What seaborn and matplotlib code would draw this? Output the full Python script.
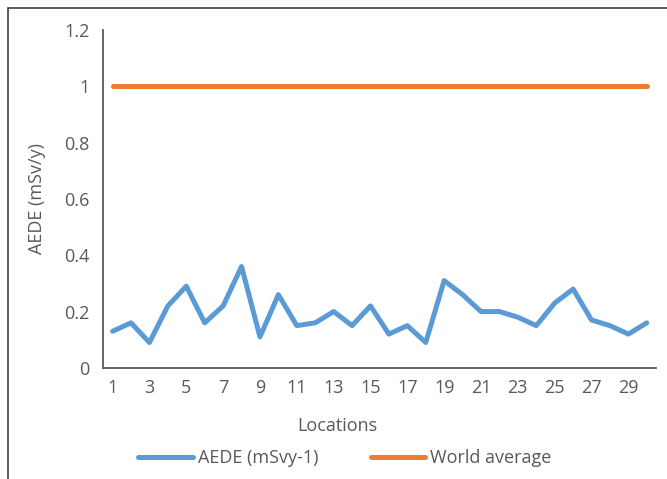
import matplotlib
matplotlib.use('Agg')
import matplotlib.pyplot as plt
import numpy as np
import pandas as pd
import seaborn as sns
from matplotlib.patches import Rectangle

locations = list(range(1, 31))
aede = [0.13, 0.16, 0.09, 0.22, 0.29, 0.16, 0.22, 0.36, 0.11, 0.26,
        0.15, 0.16, 0.20, 0.15, 0.22, 0.12, 0.15, 0.09, 0.31, 0.26,
        0.20, 0.20, 0.18, 0.15, 0.23, 0.28, 0.17, 0.15, 0.12, 0.16]
world_average = [1.0] * 30
series_names = ['AEDE (mSvy-1)', 'World average']
colors = ['#5B9BD5', '#ED7D31']
yticks = [0, 0.2, 0.4, 0.6, 0.8, 1, 1.2]
ytick_labels = ['0', '0.2', '0.4', '0.6', '0.8', '1', '1.2']


def setup():
    sns.set_style('white')
    plt.rcParams['font.family'] = ['Open Sans', 'DejaVu Sans']
    plt.rcParams['text.color'] = '#595959'
    plt.rcParams['axes.labelcolor'] = '#595959'
    plt.rcParams['xtick.color'] = '#595959'
    plt.rcParams['ytick.color'] = '#595959'


def show_chart():
    df = pd.DataFrame({
        'Locations': locations * 2,
        'value': aede + world_average,
        'series': [series_names[0]] * 30 + [series_names[1]] * 30,
    })

    fs = 13
    fig = plt.figure(figsize=(6.67, 4.79), dpi=100)
    ax = fig.add_axes([0.155, 0.232, 0.8285, 0.7054])

    sns.lineplot(data=df, x='Locations', y='value', hue='series',
                 palette=colors, linewidth=3.6, ax=ax, legend=False)

    ax.set_xlim(0.5, 30.5)
    ax.set_ylim(0, 1.2)
    ax.set_yticks(yticks)
    ax.set_yticklabels(ytick_labels, fontsize=fs)

    ax.set_xticks(np.arange(0.5, 31, 1))
    ax.set_xticklabels([])
    ax.set_xticks(locations[::2], minor=True)
    ax.set_xticklabels([str(v) for v in locations[::2]], minor=True, fontsize=fs)
    ax.tick_params(axis='x', which='major', direction='out', length=5, width=1.2, color='#595959')
    ax.tick_params(axis='x', which='minor', length=0, pad=8)
    ax.tick_params(axis='y', direction='out', length=5, width=1.2, color='#595959', pad=5)

    for side in ['top', 'right']:
        ax.spines[side].set_visible(False)
    for side in ['left', 'bottom']:
        ax.spines[side].set_color('#595959')
        ax.spines[side].set_linewidth(1.3)

    ax.set_xlabel('Locations', fontsize=fs)
    ax.xaxis.set_label_coords(0.4226, -0.145)
    ax.set_ylabel('AEDE (mSv/y)', fontsize=fs, labelpad=13)

    handles = [plt.Line2D([], [], color=c, linewidth=3.6) for c in colors]
    fig.legend(handles, series_names, loc='center', bbox_to_anchor=(0.517, 0.043),
               ncol=2, frameon=False, fontsize=fs, handlelength=3.0,
               handletextpad=0.28, columnspacing=2.9)

    # chart border (left and top edges visible)
    fig.add_artist(Rectangle((8 / 667, -0.1), 1.2, 1.1 - 8 / 479,
                             transform=fig.transFigure, fill=False,
                             edgecolor='#404040', linewidth=1.2))

    plt.savefig('out.png', dpi=100)
    plt.close()


setup()
show_chart()
